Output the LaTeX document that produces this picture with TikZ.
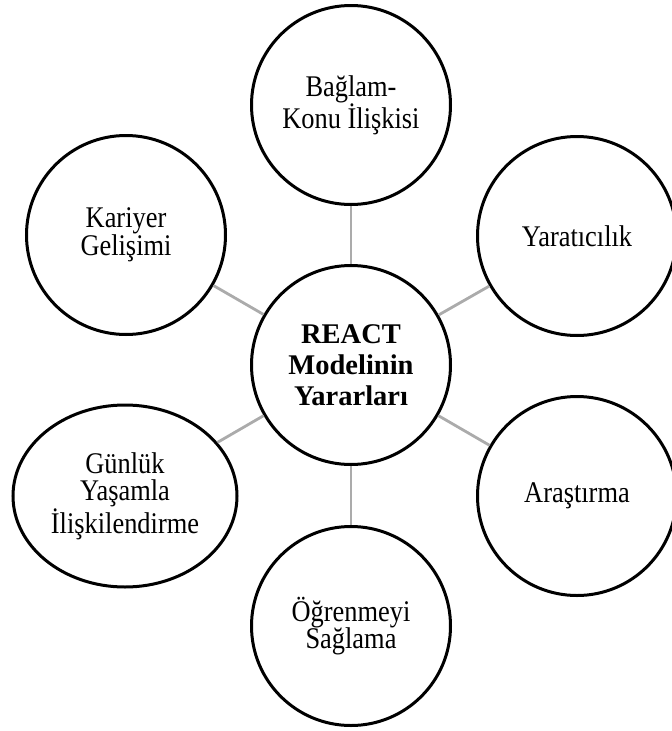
\documentclass[tikz,border=0pt]{standalone}
\usepackage{fontspec}
\setmainfont{Liberation Serif}
\newfontfamily\labfont[FakeStretch=0.88]{Liberation Serif}
\usetikzlibrary{shapes.geometric}

\tikzset{
  hub/.style={circle, draw=black, line width=3pt, fill=white, minimum size=199pt,
    inner sep=0pt, align=center, font=\fontsize{28.5}{31}\selectfont\bfseries},
  spoke/.style={circle, draw=black, line width=3pt, fill=white, minimum size=199pt,
    inner sep=0pt, align=center, font=\labfont\fontsize{30}{27.5}\selectfont},
  wide spoke/.style={spoke, ellipse, minimum width=224pt, minimum height=182pt},
  link/.style={draw=black!33, line width=2.8pt}
}

\begin{document}
\begin{tikzpicture}[x=1pt, y=-1pt]
  \useasboundingbox (0,0) rectangle (672,731);
  \clip (0,0) rectangle (672,731);

  % benefit circles arranged around the central idea
  \node[hub]   (c)  at (351,365) {REACT\\Modelinin\\Yararları};
  \node[spoke] (t)  at (351,105) {Bağlam-\\Konu İlişkisi};
  \node[spoke] (tr) at (577,236) {Yaratıcılık};
  \node[spoke] (br) at (577,496) {Araştırma};
  \node[spoke] (b)  at (351,626) {Öğrenmeyi\\Sağlama};
  \node[wide spoke] (bl) at (125,496) {Günlük\\Yaşamla\\İlişkilendirme};
  \node[spoke] (tl) at (126,235) {Kariyer\\Gelişimi};

  % spokes from the hub to each benefit
  \foreach \n in {t,tr,br,b,bl,tl}
    \draw[link] (c) -- (\n);
\end{tikzpicture}
\end{document}
